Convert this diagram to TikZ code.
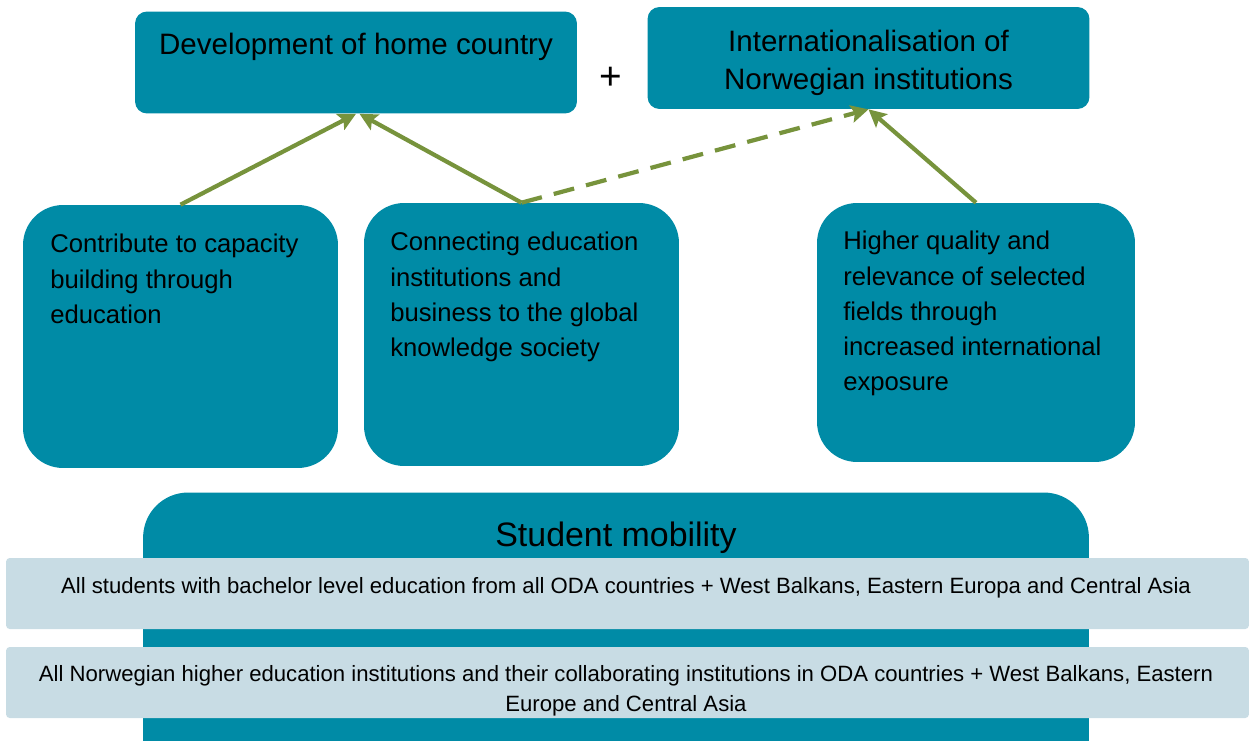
\documentclass[tikz,border=0pt]{standalone}
\usepackage{fontspec}
\setmainfont{Liberation Sans}
\usetikzlibrary{arrows.meta,positioning}
\definecolor{boxteal}{RGB}{0,139,166}
\definecolor{barblue}{RGB}{200,220,228}
\definecolor{arrowgreen}{RGB}{119,147,60}

\begin{document}
\begin{tikzpicture}
[
x=0.02cm, y=-0.02cm,
goal/.style={fill=boxteal,rounded corners=0.24cm,minimum width=8.84cm,minimum height=2.04cm,inner sep=0pt},
aim/.style={fill=boxteal,rounded corners=0.8cm,minimum width=6.3cm,minimum height=5.26cm,inner sep=0pt},
bar/.style={fill=barblue,rounded corners=2pt,minimum width=24.86cm,minimum height=1.42cm,inner sep=0pt},
goaltext/.style={inner sep=0pt,align=center,font=\fontsize{16.8}{21.6}\selectfont},
aimtext/.style={anchor=north west,inner sep=0pt,align=left,font=\fontsize{14.6}{20}\selectfont},
bartext/.style={inner sep=0pt,align=center,font=\fontsize{12.6}{17}\selectfont},
link/.style={draw=arrowgreen,line width=2.4pt,-{Stealth[length=10pt,width=10pt,inset=2pt]}},
]
\useasboundingbox (0,0) rectangle (1250,740);
\clip (0,0) rectangle (1250,740);

%Place the boxes
\node[goal] (dev) at (356,62.5) {};
\node[goal] (intl) at (868.5,58) {};
\node[aim] (cap) at (180.5,336.5) {};
\node[aim] (conn) at (521.5,334.5) {};
\node[aim,minimum width=6.36cm,minimum height=5.18cm] (qual) at (976,332.5) {};
\node[fill=boxteal,rounded corners=0.9cm,minimum width=18.92cm,minimum height=5.9cm] (mob) at (616,640) {};
\node[bar] (stud) at (627.5,593.5) {};
\node[bar] (inst) at (627.5,682.5) {};

%Place the texts
\node[goaltext] (devt) at (356,47) {Development of home country};
\node[goaltext] (intlt) at (868.5,63) {Internationalisation of\\Norwegian institutions};
\node[goaltext,font=\fontsize{22}{24}\selectfont] (plus) at (611,78) {+};
\node[aimtext] (capt) at (50,234) {Contribute to capacity\\building through\\education};
\node[aimtext] (connt) at (390,232) {Connecting education\\institutions and\\business to the global\\knowledge society};
\node[aimtext] (qualt) at (843,231) {Higher quality and\\relevance of selected\\fields through\\increased international\\exposure};
\node[goaltext,font=\fontsize{19.3}{24}\selectfont] (mobt) at (616,538) {Student mobility};
\node[bartext] (studt) at (626,588) {All students with bachelor level education from all ODA countries + West Balkans, Eastern Europa and Central Asia};
\node[bartext] (instt) at (626,691) {All Norwegian higher education institutions and their collaborating institutions in ODA countries + West Balkans, Eastern\\Europe and Central Asia};

%Draw the connections
\draw[link] (cap.north) -- (dev.south);
\draw[link] (conn.north) -- ([xshift=2pt]dev.south);
\draw[link,dash pattern=on 12pt off 7pt] (conn.north) -- (intl.south);
\draw[link] (qual.north) -- (intl.south);
\end{tikzpicture}
\end{document}
